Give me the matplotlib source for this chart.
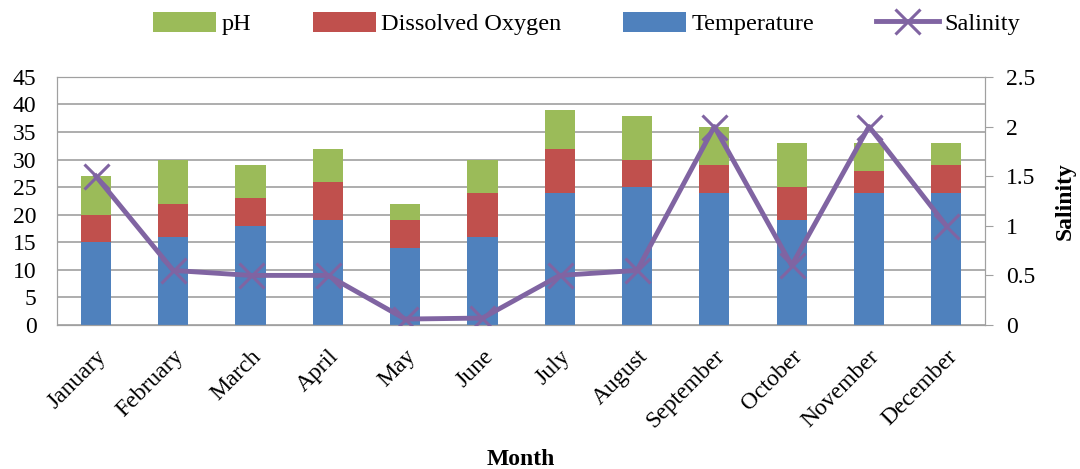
import numpy as np
import matplotlib
matplotlib.use("Agg")
import matplotlib.pyplot as plt

months = ["January", "February", "March", "April", "May", "June",
          "July", "August", "September", "October", "November", "December"]
temperature = [15, 16, 18, 19, 14, 16, 24, 25, 24, 19, 24, 24]
dissolved_oxygen = [5, 6, 5, 7, 5, 8, 8, 5, 5, 6, 4, 5]
ph = [7, 8, 6, 6, 3, 6, 7, 8, 7, 8, 5, 4]
salinity = [1.5, 0.55, 0.5, 0.5, 0.06, 0.07, 0.5, 0.55, 2.0, 0.6, 2.0, 1.0]

plt.rcParams['font.family'] = ['Liberation Serif', 'DejaVu Serif']

blue = "#4F81BD"
red = "#C0504D"
green = "#9BBB59"
purple = "#8064A2"
grid_col = "#A0A0A0"

fig = plt.figure(figsize=(10.8, 4.69), dpi=100)
ax = fig.add_axes([0.053, 0.307, 0.859, 0.529])
x = np.arange(len(months))
w = 0.39

temp_arr = np.array(temperature)
do_arr = np.array(dissolved_oxygen)
b1 = ax.bar(x, temperature, w, color=blue, zorder=2, label="Temperature")
b2 = ax.bar(x, dissolved_oxygen, w, bottom=temp_arr, color=red, zorder=2, label="Dissolved Oxygen")
b3 = ax.bar(x, ph, w, bottom=temp_arr + do_arr, color=green, zorder=2, label="pH")

ax.set_xlim(-0.5, len(months) - 0.5)
ax.set_ylim(0, 45)
ax.set_yticks(range(0, 46, 5))
ax.yaxis.grid(True, color=grid_col, linewidth=1.2)
ax.set_axisbelow(True)
for s in ax.spines.values():
    s.set_color(grid_col)
ax.tick_params(axis='y', length=0, labelsize=17, pad=15)
ax.tick_params(axis='x', length=0, labelsize=17, pad=15)
ax.set_xticks(x)
ax.set_xticklabels(months, rotation=45, ha='right', rotation_mode='anchor')
ax.set_xlabel("Month", fontsize=17, fontweight='bold', labelpad=12)

ax2 = ax.twinx()
line, = ax2.plot(x, salinity, color=purple, linewidth=3.5, marker='x',
                 markersize=18, markeredgewidth=2.2, label="Salinity", zorder=3)
ax2.set_ylim(0, 2.5)
ax2.set_yticks([0, 0.5, 1, 1.5, 2, 2.5])
ax2.set_yticklabels(["0", "0.5", "1", "1.5", "2", "2.5"])
ax2.tick_params(axis='y', labelsize=17, color=grid_col, length=6, pad=9)
for s in ax2.spines.values():
    s.set_color(grid_col)
ax2.set_ylabel("Salinity", fontsize=17, fontweight='bold', labelpad=14)

fig.legend([b3, b2, b1, line], ["pH", "Dissolved Oxygen", "Temperature", "Salinity"],
           loc='upper center', bbox_to_anchor=(0.543, 1.022), ncol=4, frameon=False,
           fontsize=17.5, handlelength=2.6, handleheight=0.9, columnspacing=2.55,
           handletextpad=0.2)

fig.savefig("out.png", dpi=100)
